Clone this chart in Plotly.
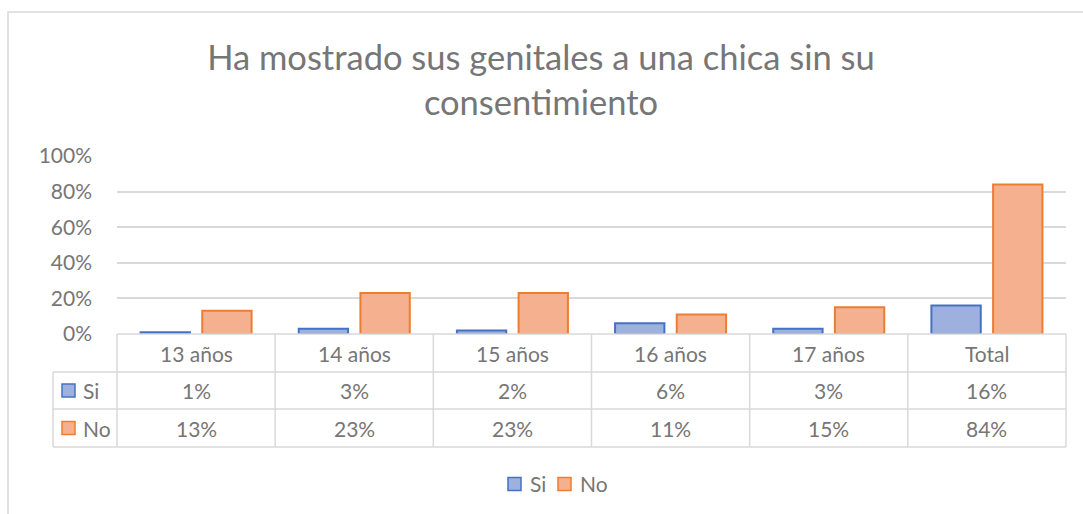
import plotly.graph_objects as go

categories = ["13 años", "14 años", "15 años", "16 años", "17 años", "Total"]
si_values = [1, 3, 2, 6, 3, 16]
no_values = [13, 23, 23, 11, 15, 84]
series_names = ["Si", "No"]
y_ticks = [0, 20, 40, 60, 80, 100]
y_tick_labels = [f"{v}%" for v in y_ticks]
title_text = "Ha mostrado sus genitales a una chica sin su<br>consentimiento"

FONT = "Lato"
TXT = "#767676"
GRID = "#d9d9d9"
SI_FILL, SI_LINE = "#9eb0de", "#4472c4"
NO_FILL, NO_LINE = "#f5b08f", "#ed7d31"
series_styles = [(SI_FILL, SI_LINE), (NO_FILL, NO_LINE)]

W, H = 1083, 514
ML, MR, MT, MB = 117, 17, 156, 180
PW, PH = W - ML - MR, H - MT - MB


def px_x(px):
    return (px - ML) / PW


def px_y(py):
    return (H - MB - py) / PH


fig = go.Figure()
for name, vals, (fill, line) in zip(series_names, [si_values, no_values], series_styles):
    fig.add_trace(go.Bar(name=name, x=categories, y=vals, showlegend=False,
                         marker=dict(color=fill, line=dict(color=line, width=2))))

shapes = []
annotations = []
n = len(categories)
row_top, row1, row2, row3 = 334, 372, 409, 447
key_left = 53
tf = dict(family=FONT, size=21, color=TXT)

# data table grid
for k in range(n + 1):
    shapes.append(dict(type="line", xref="paper", yref="paper", x0=k / n, x1=k / n,
                       y0=px_y(row_top), y1=px_y(row3), line=dict(color=GRID, width=1.5)))
shapes.append(dict(type="line", xref="paper", yref="paper", x0=px_x(key_left), x1=px_x(key_left),
                   y0=px_y(row1), y1=px_y(row3), line=dict(color=GRID, width=1.5)))
for r in (row1, row2, row3):
    shapes.append(dict(type="line", xref="paper", yref="paper", x0=px_x(key_left), x1=1,
                       y0=px_y(r), y1=px_y(r), line=dict(color=GRID, width=1.5)))
shapes.append(dict(type="line", xref="paper", yref="paper", x0=0, x1=1,
                   y0=px_y(row_top), y1=px_y(row_top), line=dict(color=GRID, width=1.5)))

# table row keys
for name, (fill, line), (ya, yb) in zip(series_names, series_styles, [(row1, row2), (row2, row3)]):
    cy = (ya + yb) / 2
    shapes.append(dict(type="rect", xref="paper", yref="paper",
                       x0=px_x(62), x1=px_x(75), y0=px_y(cy + 6.5), y1=px_y(cy - 6.5),
                       fillcolor=fill, line=dict(color=line, width=1.5)))
    annotations.append(dict(x=px_x(81), xref="paper", y=px_y(cy), yref="paper",
                            text=name, showarrow=False, font=tf, xanchor="left", yanchor="middle"))

# table cells
for i, c in enumerate(categories):
    annotations.append(dict(x=c, xref="x", y=px_y((row_top + row1) / 2), yref="paper",
                            text=c, showarrow=False, font=tf, xanchor="center", yanchor="middle"))
    annotations.append(dict(x=c, xref="x", y=px_y((row1 + row2) / 2), yref="paper",
                            text=f"{si_values[i]}%", showarrow=False, font=tf, xanchor="center", yanchor="middle"))
    annotations.append(dict(x=c, xref="x", y=px_y((row2 + row3) / 2), yref="paper",
                            text=f"{no_values[i]}%", showarrow=False, font=tf, xanchor="center", yanchor="middle"))

# bottom legend
legend_cy = 484
for name, (fill, line), sx in zip(series_names, series_styles, [508, 558]):
    shapes.append(dict(type="rect", xref="paper", yref="paper",
                       x0=px_x(sx), x1=px_x(sx + 13), y0=px_y(legend_cy + 6.5), y1=px_y(legend_cy - 6.5),
                       fillcolor=fill, line=dict(color=line, width=1.5)))
    annotations.append(dict(x=px_x(sx + 20), xref="paper", y=px_y(legend_cy - 1), yref="paper",
                            text=name, showarrow=False, font=tf, xanchor="left", yanchor="middle"))

# chart border
shapes.append(dict(type="rect", xref="paper", yref="paper", x0=px_x(8), x1=px_x(1095),
                   y0=px_y(530), y1=px_y(12), line=dict(color=GRID, width=1.5), layer="below"))

fig.update_layout(
    width=W, height=H,
    margin=dict(l=ML, r=MR, t=MT, b=MB, autoexpand=False),
    paper_bgcolor="white", plot_bgcolor="white",
    barmode="group", bargap=0.22, bargroupgap=0.2,
    title=dict(text=title_text, x=0.4995, xanchor="center", xref="container",
               y=1 - 70 / H, yanchor="middle", yref="container",
               font=dict(family=FONT, size=34.5, color=TXT)),
    xaxis=dict(showticklabels=False, showgrid=False, zeroline=False, showline=False, ticks=""),
    yaxis=dict(range=[0, 100], tickvals=y_ticks, ticktext=y_tick_labels, showgrid=True, gridcolor=GRID,
               gridwidth=1.5, zeroline=False, showline=False, ticks="",
               ticklabelstandoff=24, tickfont=tf),
    showlegend=False,
    shapes=shapes, annotations=annotations,
)

fig.write_html("out.html", config={"displayModeBar": False},
               post_script="document.body.style.margin='0';")
